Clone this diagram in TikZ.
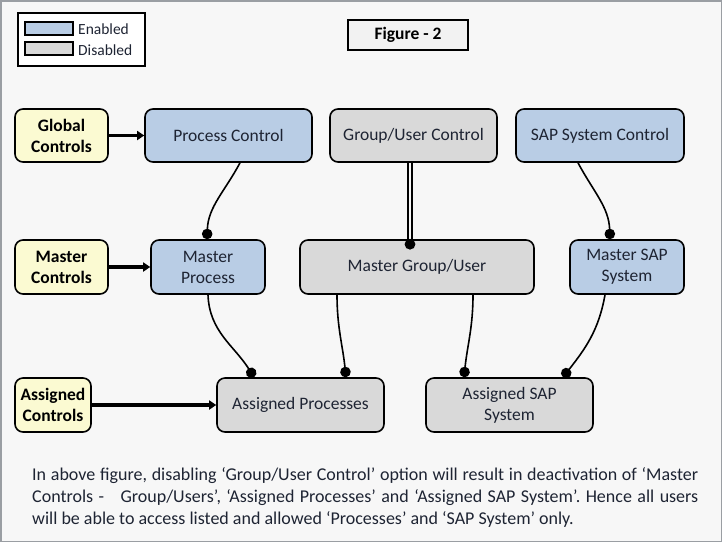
\documentclass[tikz,border=0pt]{standalone}
\usepackage{fontspec}
\setmainfont{Carlito}
\usetikzlibrary{arrows.meta,positioning,calc}
\definecolor{bluefill}{HTML}{B9CDE5}
\definecolor{grayfill}{HTML}{D9D9D9}
\definecolor{yellowfill}{HTML}{FBFAD2}
\definecolor{bgc}{HTML}{F7F7F7}
\definecolor{framec}{HTML}{9A9EA3}
\definecolor{textc}{HTML}{1E2433}
\tikzset{
  box/.style={draw=black, line width=1.6pt, rounded corners=8pt, align=center,
    font=\fontsize{17.5}{21}\selectfont, text=textc, inner sep=0pt},
  enabledbox/.style={box, fill=bluefill},
  disabledbox/.style={box, fill=grayfill},
  ctrlbox/.style={box, fill=yellowfill, font=\fontsize{17.5}{21}\selectfont\bfseries, text=black},
  thickarrow/.style={line width=3.2pt, -{Triangle[length=7pt,width=9pt]}},
  dotlink/.style={line width=1.6pt, -{Circle[length=10.5pt]}},
}
\begin{document}
\begin{tikzpicture}[x=1pt,y=-1pt]
\useasboundingbox (0,0) rectangle (722,542);
\fill[bgc] (0,0) rectangle (722,542);
\draw[framec, line width=1.5pt] (0.75,0.75) rectangle (721.25,541.25);

% legend
\node[draw=black, line width=1.6pt, fill=white, minimum width=127pt, minimum height=53pt, inner sep=0pt] (legend) at (81.5,39.5) {};
\node[draw=black, line width=1.4pt, fill=bluefill, minimum width=48pt, minimum height=13pt, inner sep=0pt] (enswatch) at (49,28.5) {};
\node[draw=black, line width=1.4pt, fill=grayfill, minimum width=48pt, minimum height=13pt, inner sep=0pt] (disswatch) at (49,48.5) {};
\node[anchor=west, inner sep=0pt, font=\fontsize{15.5}{18}\selectfont, text=textc] (entext) at (78,29) {Enabled};
\node[anchor=west, inner sep=0pt, font=\fontsize{15.5}{18}\selectfont, text=textc] (distext) at (78,50) {Disabled};

% figure title
\node[draw=black, line width=1.6pt, fill=white!95!black, minimum width=120pt, minimum height=30pt, inner sep=0pt, font=\fontsize{17.5}{20}\selectfont\bfseries] (fig) at (408,35) {Figure - 2};

% row 1
\node[ctrlbox, minimum width=93pt, minimum height=53pt] (gcs) at (61.5,135.5) {Global\\Controls};
\node[enabledbox, minimum width=167pt, minimum height=53pt] (pc) at (228.5,135.5) {Process Control};
\node[disabledbox, minimum width=167pt, minimum height=53pt] (guc) at (413.5,135.5) {Group/User Control};
\node[enabledbox, minimum width=168pt, minimum height=53pt] (sc) at (600,135.5) {SAP System Control};

% row 2
\node[ctrlbox, minimum width=93pt, minimum height=54pt] (mcs) at (61.5,267) {Master\\Controls};
\node[enabledbox, minimum width=114pt, minimum height=54pt] (mp) at (208,267) {Master\\Process};
\node[disabledbox, minimum width=234pt, minimum height=54pt] (mg) at (417,267) {Master Group/User};
\node[enabledbox, minimum width=114pt, minimum height=54pt] (ms) at (627,267) {Master SAP\\System};

% row 3
\node[ctrlbox, minimum width=76pt, minimum height=54pt] (acs) at (53,405) {Assigned\\Controls};
\node[disabledbox, minimum width=167pt, minimum height=54pt] (ap) at (300.5,405) {Assigned Processes};
\node[disabledbox, minimum width=167pt, minimum height=54pt] (as) at (509.5,405) {Assigned SAP\\System};

% thick arrows
\draw[thickarrow] (gcs.east) -- (pc.west);
\draw[thickarrow] (mcs.east) -- (mp.west);
\draw[thickarrow] (acs.east) -- (ap.west);

% dot links
\draw[dotlink] ([xshift=11.5pt]pc.south) to[out=-118, in=88] ([xshift=-1pt]mp.north);
\draw[dotlink] ([xshift=-22pt]sc.south) to[out=-62, in=92] ([xshift=-17pt]ms.north);
\draw[dotlink] (mp.south) to[out=-88, in=122] ([xshift=-46.5pt]ap.north);
\draw[dotlink] ([xshift=-80pt]mg.south) to[out=-90, in=96] ([xshift=45.5pt]ap.north);
\draw[dotlink] ([xshift=56pt]mg.south) to[out=-90, in=84] ([xshift=-45.5pt]as.north);
\draw[dotlink] ([xshift=-22pt]ms.south) to[out=-100, in=52] ([xshift=53.5pt]as.north);

% double link
\coordinate (mgdot) at ([xshift=-7pt,yshift=-5pt]mg.north);
\draw[double=bgc, double distance=2pt, line width=1.8pt] ([xshift=-3.5pt]guc.south) -- (mgdot);
\fill (mgdot) circle (5.4pt);

% paragraph
\node[anchor=north west, inner sep=0pt, text width=666pt, align=justify,
  font=\fontsize{18}{22}\selectfont\frenchspacing, text=textc] (para) at (32,467)
  {In above figure, disabling ‘Group/User Control’ option will result in deactivation of ‘Master\linebreak
   Controls -\ \ \ Group/Users’, ‘Assigned Processes’ and ‘Assigned SAP System’. Hence all users\linebreak
   will be able to access listed and allowed ‘Processes’ and ‘SAP System’ only.};
\end{tikzpicture}
\end{document}
